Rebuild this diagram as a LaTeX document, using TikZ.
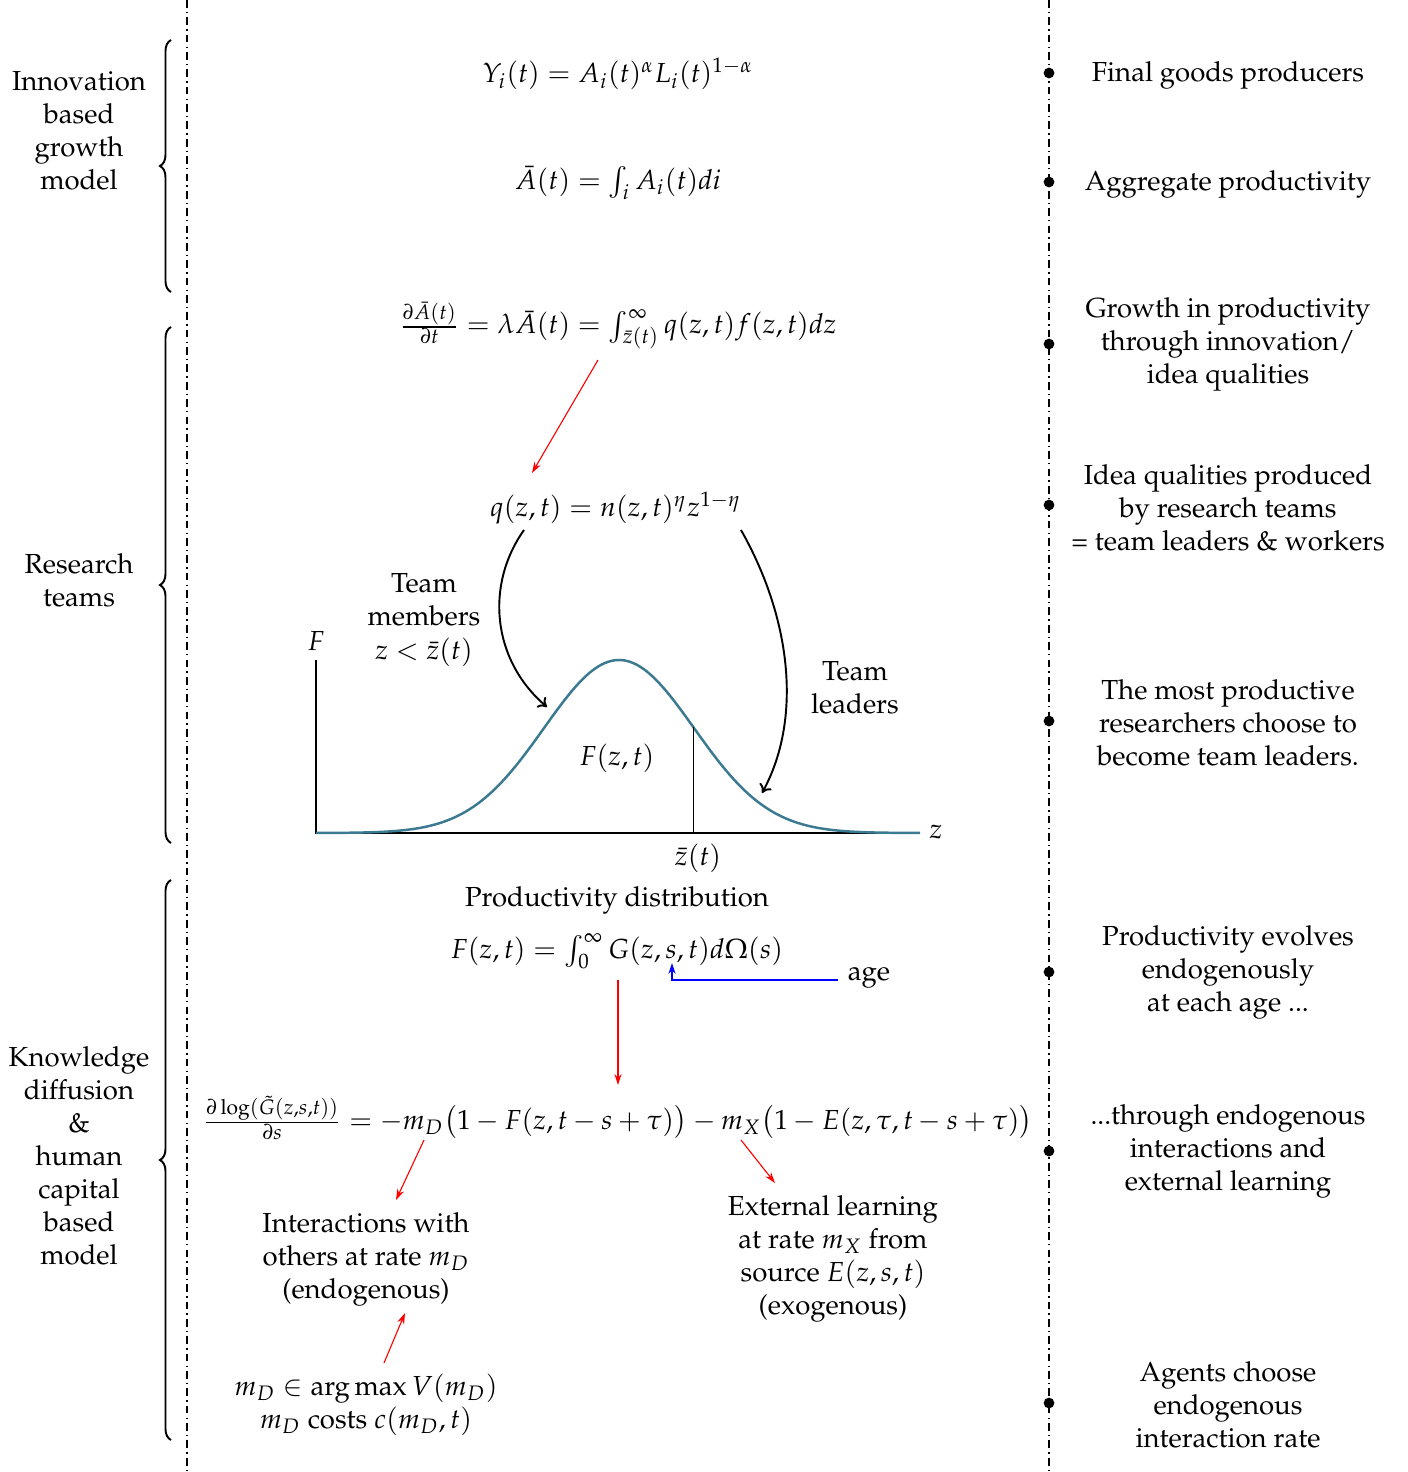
\documentclass[tikz,border=0pt]{standalone}
\usepackage[T1]{fontenc}
\usepackage{mathpazo}
\usetikzlibrary{arrows.meta,decorations.pathreplacing}
\definecolor{curveblue}{RGB}{59,122,145}
\begin{document}
\begin{tikzpicture}[x=0.363pt,y=-0.363pt,
  txt/.style={align=center,inner sep=0pt},
  sepline/.style={line width=0.8pt,dash pattern=on 2.8pt off 1.5pt on 0.5pt off 1.5pt},
  rdot/.style={circle,fill=black,inner sep=0pt,minimum size=3.9pt},
  bracestyle/.style={decorate,decoration={brace,amplitude=4pt},line width=0.7pt},
  redarr/.style={red,line width=0.4pt,-{Stealth[length=4pt,width=2.6pt]}},
  bluearr/.style={blue,line width=0.4pt,-{Stealth[length=4pt,width=2.6pt]}},
  blackarr/.style={black,line width=0.7pt,-{To[length=3pt,width=5pt]}},
  axisline/.style={line width=0.4pt}]
\useasboundingbox (0,0) rectangle (1408,1472);
% separator lines
\coordinate (s1t) at (187,0); \coordinate (s1b) at (187,1472);
\coordinate (s2t) at (1049,0); \coordinate (s2b) at (1049,1472);
\draw[sepline] (s1t) -- (s1b);
\draw[sepline] (s2t) -- (s2b);
% braces
\coordinate (b1t) at (171,40); \coordinate (b1b) at (171,292);
\coordinate (b2t) at (171,327); \coordinate (b2b) at (171,843);
\coordinate (b3t) at (171,880); \coordinate (b3b) at (171,1440);
\draw[bracestyle] (b1b) -- (b1t);
\draw[bracestyle] (b2b) -- (b2t);
\draw[bracestyle] (b3b) -- (b3t);
% left labels
\node[txt] (l1) at (79,131) {Innovation\\based\\growth\\model};
\node[txt] (l2) at (79,580) {Research\\teams};
\node[txt] (l3) at (79,1156) {Knowledge\\diffusion\\\&\\human\\capital\\based\\model};
% right dots and texts
\foreach \n/\yy in {1/73,2/182,3/344,4/505,5/721,6/972,7/1151,8/1403}
  \node[rdot] (d\n) at (1049,\yy) {};
\node[txt] (r1) at (1228,75) {Final goods producers};
\node[txt] (r2) at (1228,184) {Aggregate productivity};
\node[txt] (r3) at (1228,344) {Growth in productivity\\through innovation/\\idea qualities};
\node[txt] (r4) at (1228,508) {Idea qualities produced\\by research teams\\= team leaders \& workers};
\node[txt] (r5) at (1228,723) {The most productive\\researchers choose to\\become team leaders.};
\node[txt] (r6) at (1228,972) {Productivity evolves\\endogenously\\at each age ...};
\node[txt] (r7) at (1228,1151) {...through endogenous\\interactions and\\external learning};
\node[txt] (r8) at (1228,1405) {Agents choose\\endogenous\\interaction rate};
% center formulas
\node[txt] (e1) at (618,74) {$Y_i(t) = A_i(t)^\alpha L_i(t)^{1-\alpha}$};
\node[txt] (e2) at (618,183) {$\bar A(t) = \int_i A_i(t)di$};
\node[txt] (e3) at (618,326) {$\frac{\partial \bar A(t)}{\partial t} = \lambda \bar A(t) = \int_{\bar z(t)}^\infty q(z,t)f(z,t)dz$};
\node[txt] (e4) at (616,508) {$q(z,t) = n(z,t)^\eta z^{1-\eta}$};
\coordinate (a1s) at (598,360); \coordinate (a1e) at (532,473);
\draw[redarr] (a1s) -- (a1e);
% team arrows
\coordinate (tm1) at (524,530); \coordinate (tm2) at (547,707);
\draw[blackarr] (tm1) .. controls (485,585) and (492,660) .. (tm2);
\coordinate (tl1) at (741,530); \coordinate (tl2) at (762,793);
\draw[blackarr] (tl1) .. controls (792,620) and (802,720) .. (tl2);
\node[txt] (tmem) at (424,620) {Team\\members\\$z<\bar z(t)$};
\node[txt] (tlead) at (855,688) {Team\\leaders};
% axes
\coordinate (o) at (316,833);
\coordinate (ytop) at (316,660);
\coordinate (xend) at (920,833);
\draw[axisline] (ytop) -- (o) -- (xend);
\node[txt] (Flab) at (316,641) {$F$};
\node[txt] (zlab) at (936,832) {$z$};
\draw[curveblue,line width=0.9pt,domain=316:920,samples=150,smooth]
  plot (\x,{833-173*exp(-0.5*((\x-619)/75)^2)});
\coordinate (zb1) at (693,{833-173*exp(-0.5*((693-619)/75)^2)});
\coordinate (zb2) at (693,833);
\draw[line width=0.3pt] (zb1) -- (zb2);
\node[txt] (zbl) at (698,858) {$\bar z(t)$};
\node[txt] (Fzt) at (617,758) {$F(z,t)$};
\node[txt] (pd) at (617,900) {Productivity distribution};
\node[txt] (e5) at (617,951) {$F(z,t) = \int_0^\infty G(z,s,t)d\Omega(s)$};
\node[txt] (age) at (869,978) {age};
\coordinate (ag1) at (838,980); \coordinate (ag2) at (672,980); \coordinate (ag3) at (672,963);
\draw[bluearr] (ag1) -- (ag2) -- (ag3);
\coordinate (a2s) at (618,980); \coordinate (a2e) at (618,1085);
\draw[redarr] (a2s) -- (a2e);
\node[txt] (e6) at (618,1118) {$\frac{\partial \log(\tilde G(z,s,t))}{\partial s} = -m_D\bigl(1-F(z,t-s+\tau)\bigr) - m_X\bigl(1-E(z,\tau,t-s+\tau)\bigr)$};
\coordinate (a3s) at (424,1140); \coordinate (a3e) at (396,1200);
\draw[redarr] (a3s) -- (a3e);
\coordinate (a4s) at (741,1140); \coordinate (a4e) at (775,1183);
\draw[redarr] (a4s) -- (a4e);
\node[txt] (inter) at (366,1259) {Interactions with\\others at rate $m_D$\\(endogenous)};
\node[txt] (ext) at (833,1259) {External learning\\at rate $m_X$ from\\source $E(z,s,t)$\\(exogenous)};
\node[txt] (mD) at (366,1405) {$m_D \in \arg\max V(m_D)$\\$m_D$ costs $c(m_D,t)$};
\coordinate (a5s) at (384,1363); \coordinate (a5e) at (405,1313);
\draw[redarr] (a5s) -- (a5e);
\end{tikzpicture}
\end{document}
